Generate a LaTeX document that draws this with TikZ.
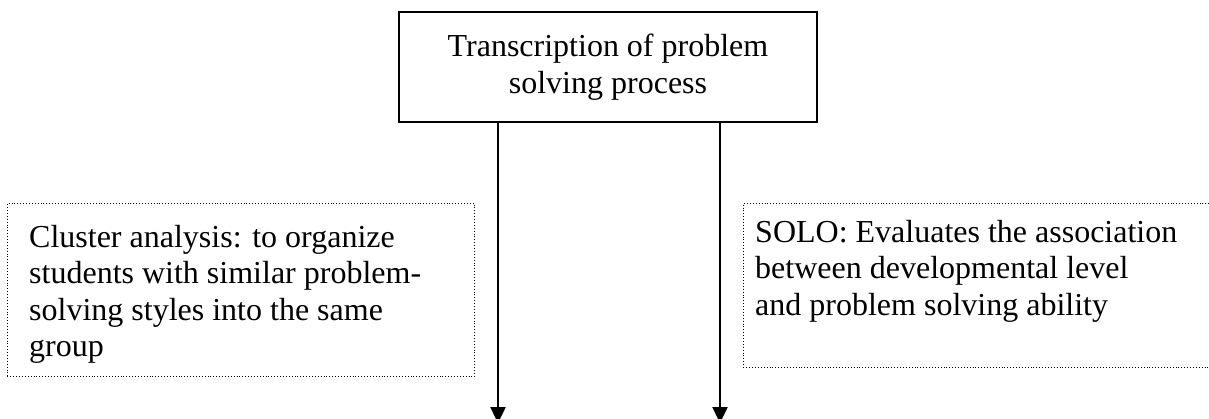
\documentclass[tikz,border=0pt]{standalone}
\usepackage{fontspec}
\setmainfont{Liberation Serif}
\usetikzlibrary{arrows.meta}
\begin{document}
\begin{tikzpicture}[x=1pt,y=-1pt,
  txt/.style={font=\fontsize{32}{36.5}\selectfont, inner sep=0pt, align=left},
  solidbox/.style={draw, line width=1.8pt, minimum width=418pt, minimum height=110pt, inner sep=0pt, align=center, font=\fontsize{32}{36.5}\selectfont},
  dotbox/.style={draw, line width=0.9pt, dash pattern=on 0.9pt off 2pt, inner sep=0pt},
  arr/.style={line width=2.5pt, -{Triangle[width=15pt,length=16pt]}}]
\useasboundingbox (0,0) rectangle (1209,419);
\node[solidbox] (top) at (608,67) {Transcription of problem\\solving process};
\node[dotbox, anchor=north west, minimum width=467pt, minimum height=173pt] (left) at (7,203) {};
\node[dotbox, anchor=north west, minimum width=480pt, minimum height=164pt] (right) at (743,203) {};
\node[txt, anchor=north west] (lefttext) at (29,225) {Cluster analysis: to organize\\students with similar problem-\\solving styles into the same\\group};
\node[txt, anchor=north west] (righttext) at (755,220) {SOLO: Evaluates the association\\between developmental level\\and problem solving ability};
\coordinate (e1) at (498,423);
\coordinate (e2) at (720,423);
\draw[arr] (top.south -| e1) -- (e1);
\draw[arr] (top.south -| e2) -- (e2);
\end{tikzpicture}
\end{document}
